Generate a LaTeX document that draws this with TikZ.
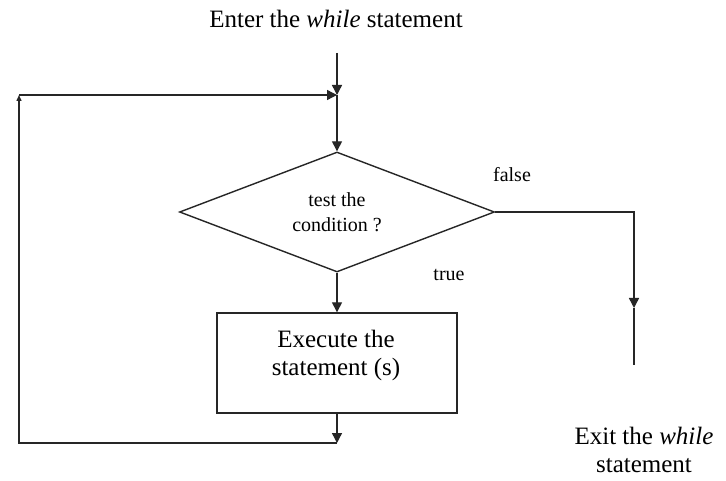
\documentclass[tikz,border=0pt]{standalone}
\usepackage{fontspec}
\setmainfont{Liberation Serif}
\usetikzlibrary{shapes.geometric,arrows.meta}
\begin{document}
\begin{tikzpicture}[x=1pt,y=-1pt,
  flow/.style={line width=1.4pt,draw=black!85,line join=miter},
  arr/.style={flow,-{Triangle[length=10pt,width=10pt]}},
  smallarr/.style={flow,-{Triangle[length=6pt,width=5pt]}},
  bigtext/.style={font=\fontsize{25}{28}\selectfont,align=center,inner sep=0pt},
  smalltext/.style={font=\fontsize{20}{25}\selectfont,align=center,inner sep=0pt},
  decision/.style={diamond,flow,inner sep=0pt,minimum width=315pt,minimum height=120pt},
  stepbox/.style={rectangle,flow,inner sep=0pt,minimum width=240pt,minimum height=100pt}]
  \useasboundingbox[fill=white] (0,0) rectangle (726,481);

  % entry label and the loop junction
  \node[bigtext,anchor=base] (enter) at (336,28) {Enter the \textit{while} statement};
  \coordinate (start) at (337,53);
  \coordinate (join) at (337,95);

  % condition test and loop body
  \node[decision] (test) at (337,212) {};
  \node[smalltext] (testtext) at (337,212) {test the\\condition ?};
  \node[stepbox] (exec) at (337,363) {};
  \node[bigtext] (exectext) at (336,355) {Execute the\\statement (s)};

  % branch labels
  \node[smalltext,anchor=base] (false) at (512,182) {false};
  \node[smalltext,anchor=base] (true) at (449,280) {true};

  % exit branch
  \coordinate (fcorner) at (634,212);
  \coordinate (fmid) at (634,308);
  \coordinate (fend) at (634,365);
  \node[bigtext] (exit) at (644,450) {Exit the \textit{while}\\statement};

  % loop-back path
  \coordinate (bjoin) at (337,443);
  \coordinate (bl) at (19,443);
  \coordinate (tl) at (19,95);

  % connectors
  \draw[arr] (start) -- (join);
  \draw[arr] (join) -- (test.north);
  \draw[arr] (test.south) -- (exec.north);
  \draw[arr] (exec.south) -- (bjoin);
  \draw[smallarr] (bjoin) -- (bl) -- (tl);
  \draw[arr] (tl) -- (join);
  \draw[arr] (test.east) -- (fcorner) -- (fmid);
  \draw[flow] (fmid) -- (fend);
\end{tikzpicture}
\end{document}
